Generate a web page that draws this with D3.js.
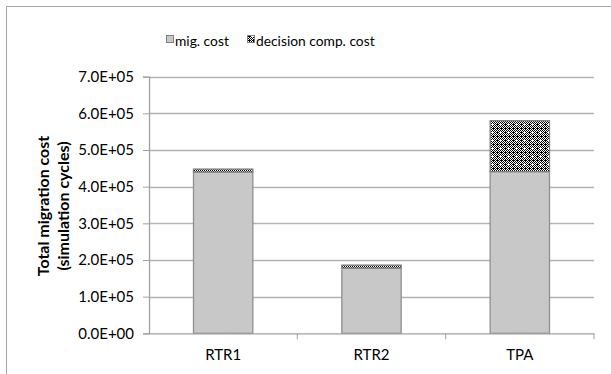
<!DOCTYPE html>
<html lang="en">
<head>
  <meta charset="UTF-8">
  <title>Total migration cost</title>
  <script src="https://d3js.org/d3.v7.min.js"></script>
  <style>
    body { margin: 0; background: #fff; }
    text { font-family: Lato, "Open Sans", sans-serif; fill: #000; }
  </style>
</head>
<body>
<svg width="611" height="374"></svg>

<script>
  const categories = ["RTR1", "RTR2", "TPA"];
  const migCost = [440000, 178000, 441000];
  const decisionCost = [8000, 8000, 139000];
  const yTicks = [0, 100000, 200000, 300000, 400000, 500000, 600000, 700000];
  const seriesNames = ["mig. cost", "decision comp. cost"];

  const svg = d3.select("svg");
  const margin = {left: 149, right: 17, top: 76.7, bottom: 40.7};
  const width = 611, height = 374;

  // outer chart border
  svg.append("rect")
    .attr("x", 6.5).attr("y", 6.5)
    .attr("width", 610).attr("height", 380)
    .attr("fill", "none").attr("stroke", "#a6a6a6");

  const defs = svg.append("defs");
  const pat = defs.append("pattern")
    .attr("id", "hatch")
    .attr("patternUnits", "userSpaceOnUse")
    .attr("width", 8).attr("height", 8);
  pat.append("rect").attr("width", 8).attr("height", 8).attr("fill", "#fff");
  for (let i = 0; i < 8; i++) {
    for (let j = 0; j < 8; j++) {
      const plus = (i === 4 && j >= 3 && j <= 5) || (j === 4 && i >= 3 && i <= 5);
      if (plus) continue;
      if ((i + j) % 2 === 0 || (i % 4 === 1 && j % 4 === 0)) {
        pat.append("rect").attr("x", i).attr("y", j).attr("width", 1).attr("height", 1).attr("fill", "#000");
      }
    }
  }

  const x = d3.scaleBand()
    .domain(categories)
    .range([margin.left, width - margin.right])
    .paddingInner(0).paddingOuter(0);

  const y = d3.scaleLinear()
    .domain([0, 700000])
    .range([height - margin.bottom, margin.top]);

  // gridlines
  svg.append("g")
    .selectAll("line")
    .data(yTicks.slice(1))
    .enter().append("line")
    .attr("x1", margin.left).attr("x2", width - margin.right)
    .attr("y1", d => Math.round(y(d)) + 0.5).attr("y2", d => Math.round(y(d)) + 0.5)
    .attr("stroke", "#b3b3b3").attr("stroke-width", 1.3);

  // bars
  const barW = x.bandwidth() / 2.5;
  const bars = svg.append("g");
  categories.forEach((c, i) => {
    const bx = x(c) + (x.bandwidth() - barW) / 2;
    bars.append("rect")
      .attr("x", bx).attr("y", y(migCost[i]))
      .attr("width", barW).attr("height", y(0) - y(migCost[i]))
      .attr("fill", "#c8c8c8").attr("stroke", "#8f8f8f").attr("stroke-width", 1.3);
    bars.append("rect")
      .attr("x", bx).attr("y", y(migCost[i] + decisionCost[i]))
      .attr("width", barW).attr("height", y(migCost[i]) - y(migCost[i] + decisionCost[i]))
      .attr("fill", "url(#hatch)").attr("stroke", "#7f7f7f").attr("stroke-width", 1.3);
  });

  // y axis
  const yAxis = svg.append("g")
    .attr("transform", `translate(${margin.left},0)`)
    .call(d3.axisLeft(y).tickValues(yTicks).tickSize(6).tickPadding(9)
      .tickFormat(d => (d / 100000).toFixed(1) + (d === 0 ? "E+00" : "E+05")));
  yAxis.select(".domain").attr("stroke", "#a0a0a0").attr("stroke-width", 1.3);
  yAxis.selectAll(".tick line").attr("stroke", "#a0a0a0");
  yAxis.selectAll(".tick text").attr("font-size", 15).attr("font-family", "Lato, sans-serif");

  // x axis
  const xAxis = svg.append("g")
    .attr("transform", `translate(0,${y(0)})`)
    .call(d3.axisBottom(x).tickSize(0).tickPadding(16));
  xAxis.select(".domain").attr("stroke", "#a0a0a0").attr("stroke-width", 1.3);
  xAxis.selectAll(".tick text").attr("font-size", 15).attr("font-family", "Lato, sans-serif");
  xAxis.selectAll(".sep")
    .data(categories)
    .enter().append("line")
    .attr("class", "sep")
    .attr("x1", d => x(d) + x.bandwidth()).attr("x2", d => x(d) + x.bandwidth())
    .attr("y1", 0).attr("y2", 6)
    .attr("stroke", "#a0a0a0");

  // y axis title
  const ty = svg.append("text")
    .attr("transform", "translate(49,206) rotate(-90)")
    .attr("text-anchor", "middle")
    .attr("font-size", 16).attr("font-weight", "bold");
  ty.append("tspan").attr("x", 0).attr("dy", 0).text("Total migration cost");
  ty.append("tspan").attr("x", 0).attr("dy", 20).text("(simulation cycles)");

  // legend
  const legend = svg.append("g");
  const legX = [166, 247];
  seriesNames.forEach((s, i) => {
    legend.append("rect")
      .attr("x", legX[i] + 0.5).attr("y", 35.5)
      .attr("width", 7).attr("height", 7)
      .attr("fill", i === 0 ? "#c8c8c8" : "url(#hatch)")
      .attr("stroke", "#7f7f7f");
    legend.append("text")
      .attr("x", legX[i] + 9).attr("y", 45.5)
      .attr("font-size", 13.8)
      .text(s);
  });
</script>
</body>
</html>
